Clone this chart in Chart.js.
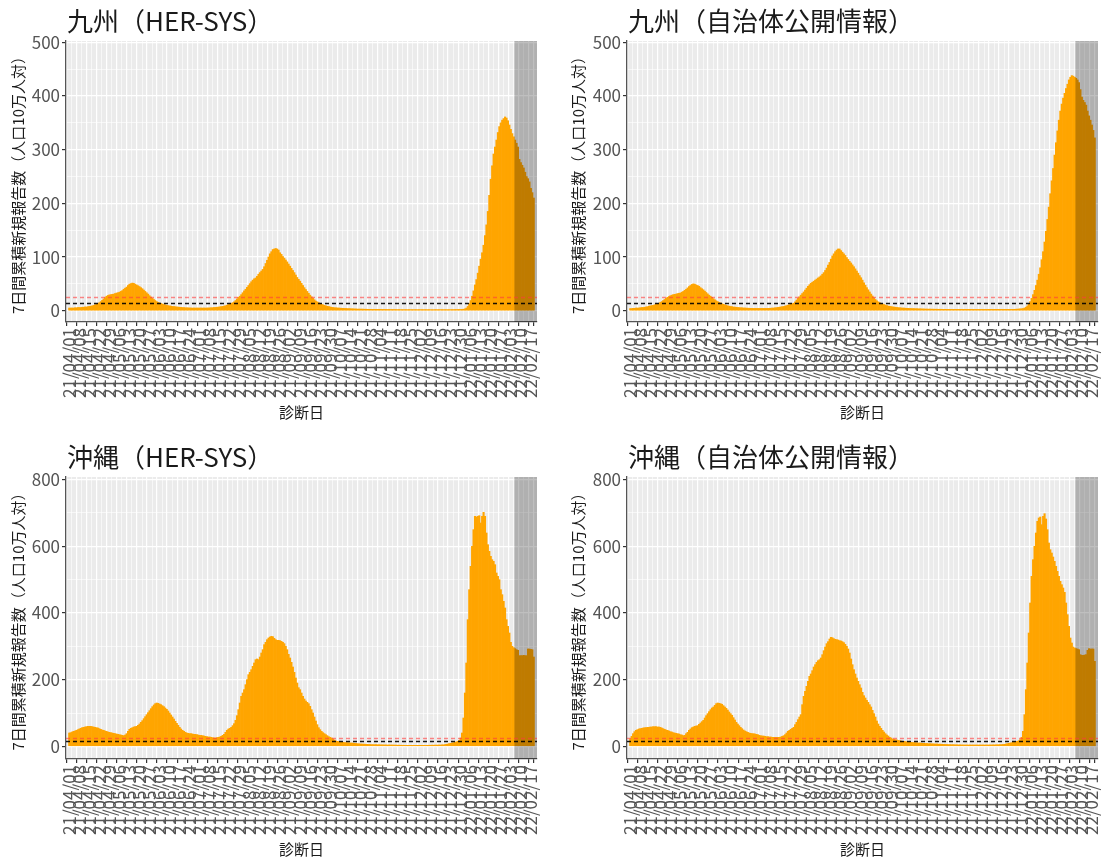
<!DOCTYPE html>
<html lang="ja">
<head>
<meta charset="utf-8">
<title>7日間累積新規報告数</title>
<script src="https://cdn.jsdelivr.net/npm/chart.js@4.4.1/dist/chart.umd.min.js"></script>
<style>
  html, body { margin: 0; padding: 0; background: #fff; width: 1105px; height: 858px; overflow: hidden; }
  .panel { position: absolute; }
</style>
</head>
<body>
<div class="panel" style="left:0;top:0;width:552px;height:430px"><canvas id="c1"></canvas></div>
<div class="panel" style="left:560px;top:0;width:545px;height:430px"><canvas id="c2"></canvas></div>
<div class="panel" style="left:0;top:436px;width:552px;height:422px"><canvas id="c3"></canvas></div>
<div class="panel" style="left:560px;top:436px;width:545px;height:422px"><canvas id="c4"></canvas></div>

<script>
// 週ごとの目盛りラベル（21/04/01 から 1日1本）
const weekLabels = ['21/04/01','21/04/08','21/04/15','21/04/22','21/04/29','21/05/06','21/05/13','21/05/20',
  '21/05/27','21/06/03','21/06/10','21/06/17','21/06/24','21/07/01','21/07/08','21/07/15','21/07/22',
  '21/07/29','21/08/05','21/08/12','21/08/19','21/08/26','21/09/02','21/09/09','21/09/16','21/09/23',
  '21/09/30','21/10/07','21/10/14','21/10/21','21/10/28','21/11/04','21/11/11','21/11/18','21/11/25',
  '21/12/02','21/12/09','21/12/16','21/12/23','21/12/30','22/01/06','22/01/13','22/01/20','22/01/27',
  '22/02/03','22/02/10','22/02/17'];

// 目安の線（ステージIII / ステージIV）
const thresholds = [15, 25];
// 直近2週間（報告遅れ）の網掛け開始位置（日インデックス）
const shadeFrom = 310.5;

// 九州（HER-SYS）
const kyushuHer = [
  5,5,5,5,5.5,5.5,6, 6,6,6.5,6.5,7,7,7.5,
  8,8.5,9,10,11,12,13.5, 15,17,19.5,22,24.5,27,28.5,
  29.5,30,30.5,31,32,33,33.5, 34.5,36,37.5,40,42,44,47,
  49.5,50.5,51.5,51,49.5,48,46.5, 45,43,41,38.5,36,33.5,31,
  28,25.5,23,21,19,17,15.5, 14.5,13.5,12.5,11.5,11,10,9.5,
  9,8.5,8,7.8,7.5,7,6.8, 6.5,6.2,6,5.8,5.5,5.5,5.3,
  5.2,5,5,5,5,5,5, 5,5,5,5,5,5,5.2,
  5.3,5.5,5.7,6,6.2,6.5,6.8, 7.2,7.6,8.1,8.6,9.3,10.2,11.5,
  12.2,13.5,15,16.5,19,22,25, 27,30,33.5,37,40,43.5,47,
  50.5,54,57,59.5,61,64,68, 71,74,77,82,88,94,100,
  106,110,114,115,116,115,113, 108,105,101,98,94.5,91,87,
  83,79,75,71,66.5,62,58.5, 55,51,47,43,39.5,36,32.5,
  29,26,23,20.5,18,16.5,15, 13.5,12,11,10,9,8.5,7.8,
  7,6.5,6,5.7,5.4,5.2,5, 4.8,4.6,4.5,4.3,4.2,4,3.9,
  3.8,3.6,3.5,3.4,3.2,3.1,3, 3,3,2.9,2.8,2.8,2.7,2.6,
  2.6,2.5,2.5,2.5,2.5,2.5,2.5, 2.5,2.4,2.4,2.4,2.3,2.3,2.3,
  2.2,2.2,2.2,2.2,2.1,2.1,2.1, 2,2,2,2,2,2,2,
  2,2,2,2,2,2,2, 2,2,2,2,2,2,2,
  1.9,1.9,1.9,2,2,2,2, 2,2,2,2,2,2,2,
  2,2.1,2.1,2.2,2.2,2.3,2.4, 2.4,2.5,2.8,3.5,5,8,13,
  19,27,37,48,58,70,83, 96,108,122,140,160,185,215,
  245,270,292,305,318,332,343, 350,355,358,361,359,354,346,
  338,330,324,318,312,305,282, 276,271,266,258,250,246,240,
  228,220,210
];

// 九州（自治体公開情報）
const kyushuLocal = [
  4,4,4.5,4.5,5,5,5, 5.5,6,6,6.5,7,7.5,8.5,
  9,9.5,10,11,12,13,14, 15.5,17,19,21,23,25,26.5,
  28,29,30,30.5,31,32,32.5, 33,34.5,36,38,40,42.5,45,
  47,49,50,49.5,48,47,45.5, 43,41,39,36.5,34,31.5,29,
  27,25,22.5,20.5,18.5,17,15.5, 14.5,13,12,11,10,9.2,8.5,
  8,7.5,7,6.7,6.4,6.1,5.8, 5.6,5.4,5.2,5,4.9,4.7,4.6,
  4.5,4.4,4.3,4.3,4.3,4.3,4.3, 4.3,4.3,4.3,4.3,4.3,4.4,4.5,
  4.7,4.9,5.1,5.4,5.8,6.2,6.6, 7,7.5,8,8.7,9.5,10.3,11.2,
  12,13,14,16.5,20,23,26, 29,32,35,38.5,42,45.5,48.5,
  51,53,55,57,59,61,63, 65,68,71,75,79.5,85,90,
  96,102,106,110,113,115,115, 112,109,106,103,99,95.5,92,
  89,85.5,82,78,74,70,65.5, 61.5,57,52,47.5,43,39,35,
  31,27.5,24,21,18.5,16.5,15, 13.5,12.5,11.5,10.5,9.5,8.8,8.2,
  7.7,7.3,6.8,6.5,6.1,5.8,5.5, 5.2,5,4.9,4.7,4.5,4.4,4.2,
  4.1,4,3.9,3.8,3.7,3.6,3.5, 3.4,3.3,3.2,3.1,3,3,3,
  2.9,2.9,2.8,2.8,2.8,2.7,2.7, 2.7,2.6,2.6,2.6,2.5,2.5,2.5,
  2.5,2.5,2.5,2.5,2.5,2.5,2.5, 2.5,2.5,2.5,2.5,2.5,2.5,2.5,
  2.5,2.5,2.4,2.4,2.4,2.4,2.4, 2.4,2.4,2.4,2.4,2.4,2.5,2.5,
  2.5,2.5,2.5,2.5,2.5,2.5,2.5, 2.5,2.5,2.5,2.5,2.5,2.5,2.5,
  2.5,2.6,2.7,2.8,3,3.2,3.5, 3.7,4,5,6.5,9,12,17,
  23,30,38,47,57,68,80, 95,110,128,148,170,193,218,
  242,265,290,313,335,355,372, 385,396,405,414,422,430,435,
  438,437,435,433,430,425,412, 398,392,388,383,372,363,355,
  346,336,322
];

// 沖縄（HER-SYS）
const okinawaHer = [
  40,41,43,45,46,48,50, 52,54,56,57,58,59,60,
  60,60,59,58,57,56,55, 53,51,49,48,46,45,43,
  42,41,40,39,38,37,36, 35,34,33,32,34,38,45,
  51,54,56,58,59,60,63, 67,72,77,83,89,95,101,
  107,113,119,124,128,130,129, 127,125,122,119,115,111,106,
  100,94,88,82,75,69,63, 57,52,48,45,42,40,39,
  38,38,37,36,36,35,34, 33,33,32,31,30,29,28,
  28,27,26,25,25,26,27, 28,30,33,36,42,48,52,
  54,57,62,68,78,92,110, 130,150,160,170,185,200,215,
  222,230,240,250,260,262,260, 268,280,290,305,312,320,325,
  328,330,329,324,320,318,318, 317,315,312,308,300,290,276,
  265,252,238,222,205,190,176, 170,160,150,142,136,132,128,
  120,110,100,88,76,65,56, 50,45,41,38,35,32,29,
  27,25,22,19,16,15,14, 13,12,12,11.5,11,11,10.5,
  10,10,9.5,9,8.5,8,7.5, 7,7,6.5,6.5,6,6,5.5,
  5.5,5,5,5,5,4.8,4.6, 4.5,4.4,4.3,4.2,4.1,4,4,
  4,3.9,3.8,3.7,3.6,3.5,3.4, 3.3,3.2,3.2,3.1,3,3,3,
  3,3,3,3,3,3,3, 3,3,3,3,3.1,3.2,3.2,
  3.3,3.4,3.5,3.6,3.7,3.8,3.9, 4,4.2,4.5,5,6,7,8,
  9,10,11,12,13,15,18, 25,40,85,160,250,380,470,
  540,600,650,690,688,690,692, 670,690,702,690,640,605,585,
  570,560,555,545,520,510,500, 470,455,435,415,380,360,340,
  312,300,296,293,290,288,272, 272,272,273,272,272,292,292,
  291,290,268
];

// 沖縄（自治体公開情報）
const okinawaLocal = [
  22,30,38,44,48,50,52, 53,54,55,56,56,57,57,
  58,58,59,59,59,58,58, 57,55,53,51,49,48,46,
  44,43,41,40,39,38,37, 35,34,32,33,38,42,48,
  52,56,58,60,61,62,66, 70,74,78,85,92,98,104,
  110,115,118,123,128,130,129, 128,126,122,118,114,109,103,
  98,93,86,79,72,67,62, 57,53,49,46,44,42,40,
  39,38,38,37,36,35,33, 32,31,31,30,29,29,28,
  28,27,27,27,27,27,27, 28,30,32,35,40,45,48,
  51,54,57,65,72,80,88, 95,125,150,165,180,195,210,
  217,227,238,245,252,257,260, 265,275,287,298,308,314,322,
  327,326,323,321,320,319,317, 316,314,311,306,300,292,280,
  262,245,230,217,205,195,185, 175,162,152,145,138,132,125,
  118,108,98,88,76,67,60, 54,48,43,38,34,31,27,
  25,22,21,20,19,18,17, 16,15,15,14,13,13,12,
  12,11.5,11,11,10.5,10,10, 9.5,9,9,8.5,8.5,8,8,
  7.5,7.5,7,7,7,6.7,6.5, 6.3,6,5.8,5.6,5.4,5.2,5,
  5,5,4.8,4.6,4.5,4.4,4.3, 4.2,4.1,4,4,4,4,4,
  4,4,4,4,4,4,4, 4,4,4,4,4,4,4.1,
  4.2,4.3,4.4,4.5,4.7,4.9,5, 5.2,5.5,6,7,8,9,10,
  11,12,13,14,15,17,20, 27,45,95,170,250,340,430,
  510,560,600,640,675,685,688, 665,690,698,682,650,610,590,
  580,568,555,540,525,510,495, 485,475,462,430,395,360,325,
  310,298,295,293,292,290,275, 273,273,274,275,288,293,292,
  292,292,255
];

const FONT = "'Noto Sans CJK JP', 'Noto Sans', sans-serif";
const TICK_COLOR = '#555';

function xTickList() {
  const t = [];
  weekLabels.forEach((lab, k) => {
    t.push({ value: k * 7 });
    if (k < weekLabels.length - 1) t.push({ value: k * 7 + 3.5, mn: true });
  });
  return t;
}

function yTickList(top, step) {
  const t = [];
  for (let v = 0; v <= top; v += step / 2) t.push({ value: v, mn: v % step !== 0 });
  return t;
}

// パネル背景・網掛け・目安線・タイトル
const panelDeco = {
  id: 'panelDeco',
  beforeDraw(chart) {
    const { ctx, chartArea: a } = chart;
    ctx.save();
    ctx.fillStyle = '#EBEBEB';
    ctx.fillRect(a.left, a.top, a.width, a.height);
    ctx.restore();
  },
  afterDatasetsDraw(chart) {
    const { ctx, chartArea: a, scales: { x, y } } = chart;
    ctx.save();
    const sx = x.getPixelForValue(shadeFrom);
    ctx.fillStyle = 'rgba(0,0,0,0.25)';
    ctx.fillRect(sx, a.top, a.right - sx, a.height);

    ctx.lineWidth = 1.3;
    ctx.setLineDash([4, 3]);
    const colors = ['rgba(0,0,0,0.9)', 'rgba(255,60,60,0.6)'];
    thresholds.forEach((v, i) => {
      const py = Math.round(y.getPixelForValue(v)) + 0.5;
      ctx.strokeStyle = colors[i];
      ctx.beginPath();
      ctx.moveTo(a.left, py);
      ctx.lineTo(a.right, py);
      ctx.stroke();
    });
    ctx.restore();
  },
  afterDraw(chart, args, opts) {
    const { ctx, chartArea: a } = chart;
    ctx.save();
    ctx.font = `26px ${FONT}`;
    ctx.fillStyle = '#1a1a1a';
    ctx.textBaseline = 'alphabetic';
    ctx.fillText(opts.title, a.left + 1, 31);
    ctx.restore();
  }
};

function makePanel(id, title, values, yTop, yStep, yMin, yMax, yWidth, padRight, xHeight, xTitlePad) {
  const data = values.map((v, i) => ({ x: i, y: v }));
  return new Chart(document.getElementById(id), {
    type: 'bar',
    data: {
      datasets: [{
        data,
        backgroundColor: '#FFA500',
        borderWidth: 0,
        barPercentage: 1,
        categoryPercentage: 1
      }]
    },
    options: {
      responsive: true,
      maintainAspectRatio: false,
      animation: false,
      layout: { padding: { top: 41, right: padRight, left: 0, bottom: 0 } },
      plugins: {
        legend: { display: false },
        tooltip: { enabled: false },
        panelDeco: { title }
      },
      scales: {
        x: {
          type: 'linear',
          bounds: 'data',
          min: -0.5,
          max: values.length - 0.5,
          afterBuildTicks: s => { s.ticks = xTickList(); },
          afterFit: s => { s.height = xHeight; s.paddingLeft = 0; s.paddingRight = 0; },
          ticks: {
            autoSkip: false,
            maxRotation: 90,
            minRotation: 90,
            padding: 2,
            color: TICK_COLOR,
            font: { family: FONT, size: 17 },
            callback: (v, i, t) => t[i].mn ? '' : weekLabels[Math.round(v / 7)]
          },
          grid: {
            color: '#fff',
            lineWidth: c => (c.tick && c.tick.mn) ? 0.6 : 1.2,
            tickColor: c => (c.tick && c.tick.mn) ? 'rgba(0,0,0,0)' : '#333',
            tickLength: 4
          },
          border: { display: true, color: '#555', width: 1.3 },
          title: {
            display: true,
            text: '診断日',
            color: '#1a1a1a',
            font: { family: FONT, size: 15 },
            padding: { top: 0, bottom: xTitlePad }
          }
        },
        y: {
          type: 'linear',
          bounds: 'data',
          min: yMin,
          max: yMax,
          afterBuildTicks: s => { s.ticks = yTickList(yTop, yStep); },
          afterFit: s => { s.width = yWidth; s.paddingTop = 0; s.paddingBottom = 0; },
          ticks: {
            padding: 2,
            color: TICK_COLOR,
            font: { family: FONT, size: 17 },
            callback: (v, i, t) => t[i].mn ? '' : String(v)
          },
          grid: {
            color: '#fff',
            lineWidth: c => (c.tick && c.tick.mn) ? 0.6 : 1.2,
            tickColor: c => (c.tick && c.tick.mn) ? 'rgba(0,0,0,0)' : '#333',
            tickLength: 4
          },
          border: { display: true, color: '#555', width: 1.3 },
          title: {
            display: true,
            text: '7日間累積新規報告数（人口10万人対）',
            color: '#1a1a1a',
            font: { family: FONT, size: 15 },
            padding: { top: 9, bottom: 0 }
          }
        }
      }
    },
    plugins: [panelDeco]
  });
}

makePanel('c1', '九州（HER-SYS）', kyushuHer, 500, 100, -21, 502.5, 66, 15, 108, 9);
makePanel('c2', '九州（自治体公開情報）', kyushuLocal, 500, 100, -21, 502.5, 67, 7, 108, 9);
makePanel('c3', '沖縄（HER-SYS）', okinawaHer, 800, 200, -38, 808, 66, 15, 99, 0);
makePanel('c4', '沖縄（自治体公開情報）', okinawaLocal, 800, 200, -38, 808, 67, 7, 99, 0);
</script>
</body>
</html>
